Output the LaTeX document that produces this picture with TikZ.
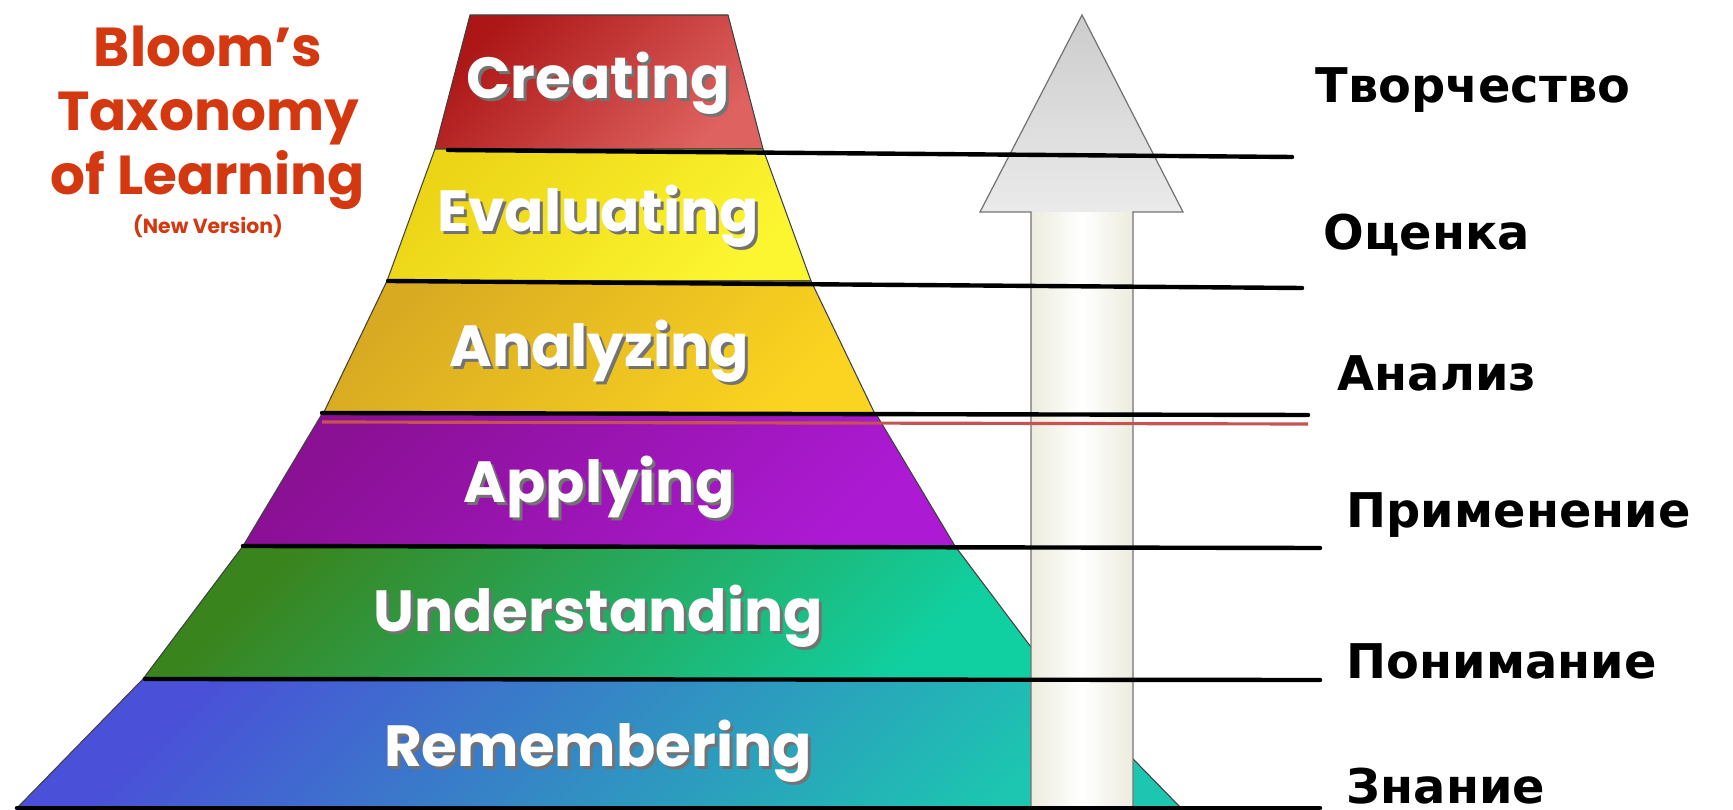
\documentclass[tikz,border=0pt]{standalone}
\usepackage{fontspec}
\setmainfont{DejaVu Sans}
\newfontfamily\comicfont{Poppins}
\usetikzlibrary{calc}

\definecolor{titlered}{RGB}{212,56,16}
\definecolor{crA}{RGB}{172,22,22}
\definecolor{crB}{RGB}{222,98,96}
\definecolor{evA}{RGB}{236,212,22}
\definecolor{evB}{RGB}{252,246,48}
\definecolor{anA}{RGB}{216,170,34}
\definecolor{anB}{RGB}{250,212,32}
\definecolor{apA}{RGB}{138,16,148}
\definecolor{apB}{RGB}{172,26,212}
\definecolor{unA}{RGB}{58,132,30}
\definecolor{unB}{RGB}{16,208,162}
\definecolor{reA}{RGB}{74,80,216}
\definecolor{reB}{RGB}{28,198,176}
\definecolor{cream}{RGB}{236,236,222}
\definecolor{redrule}{RGB}{200,82,82}

\begin{document}
\begin{tikzpicture}[x=0.01cm,y=-0.01cm,
  layer/.style={draw=black!75,line width=0.3pt},
  lvl/.style={font=\comicfont\bfseries\fontsize{16.5}{18}\selectfont,text=white,inner sep=0pt},
  lvlshadow/.style={lvl,text=black!55},
  sepline/.style={line width=1.25pt,line cap=round},
  arrowline/.style={draw=black!55,line width=0.35pt},
  rulabel/.style={anchor=west,inner sep=0pt,font=\bfseries\fontsize{13.6}{15}\selectfont}]

\useasboundingbox (0,0) rectangle (1733,810);

%Title
\node[align=center,text=titlered,font=\comicfont\bfseries\fontsize{15.6}{18.2}\selectfont] (title) at (208,118) {Bloom’s\\Taxonomy\\of Learning};
\node[text=titlered,font=\comicfont\bfseries\fontsize{5.8}{7}\selectfont] (version) at (208,226) {(New Version)};

%Pyramid
\path[layer,top color=crA,bottom color=crB,shading angle=45] (470,15) -- (728,15) -- (763,149) -- (435,149) -- cycle;
\path[layer,top color=evA,bottom color=evB,shading angle=45] (435,149) -- (763,149) -- (811,281) -- (387,281) -- cycle;
\path[layer,top color=anA,bottom color=anB,shading angle=45] (387,281) -- (811,281) -- (875,414) -- (323,414) -- cycle;
\path[layer,top color=apA,bottom color=apB,shading angle=45] (322,414) -- (876,414) -- (955,546) -- (243,546) -- cycle;
\path[layer,top color=unA,bottom color=unB,shading angle=45] (243,546) -- (955,546) -- (1055,679) -- (143,679) -- cycle;
\path[layer,top color=reA,bottom color=reB,shading angle=45] (143,679) -- (1055,679) -- (1181,808) -- (17,808) -- cycle;

\node[lvlshadow] at (601,86) {Creating};
\node[lvl] (creating) at (598,83) {Creating};
\node[lvlshadow] at (601,219) {Evaluating};
\node[lvl] (evaluating) at (598,216) {Evaluating};
\node[lvlshadow] at (602,354) {Analyzing};
\node[lvl] (analyzing) at (599,351) {Analyzing};
\node[lvlshadow] at (602,490) {Applying};
\node[lvl] (applying) at (599,487) {Applying};
\node[lvlshadow] at (601,619) {Understanding};
\node[lvl] (understanding) at (598,616) {Understanding};
\node[lvlshadow] at (601,754) {Remembering};
\node[lvl] (remembering) at (598,751) {Remembering};

%Arrow
\coordinate (tip) at (1082,15);
\fill[left color=cream,right color=cream,middle color=white] (1031,212) rectangle (1133,812);
\shade[top color=black!20,bottom color=black!8] (tip) -- (1183,212) -- (980,212) -- cycle;
\draw[arrowline] (1031,812) -- (1031,212) -- (980,212) -- (tip) -- (1183,212) -- (1133,212) -- (1133,812);

%Lines
\coordinate (a1) at (448,150);
\coordinate (b1) at (1292,157);
\coordinate (a2) at (388,281);
\coordinate (b2) at (1302,288);
\coordinate (a3) at (322,413);
\coordinate (b3) at (1308,415);
\coordinate (a4) at (243,546);
\coordinate (b4) at (1320,548);
\coordinate (a5) at (145,679);
\coordinate (b5) at (1320,680);
\coordinate (a6) at (17,808);
\coordinate (b6) at (1320,808);

\draw[sepline] (a1) -- (b1);
\draw[sepline] (a2) -- (b2);
\draw[sepline] (a3) -- (b3);
\draw[redrule,line width=0.9pt] ($(a3)+(0,9)$) -- ($(b3)+(0,9)$);
\draw[sepline] (a4) -- (b4);
\draw[sepline] (a5) -- (b5);
\draw[sepline] (a6) -- (b6);

%Labels
\node[rulabel] (tvor) at (1315,90) {Творчество};
\node[rulabel] (ocen) at (1323,235) {Оценка};
\node[rulabel] (anal) at (1337,373) {Анализ};
\node[rulabel] (prim) at (1346,515) {Применение};
\node[rulabel] (ponim) at (1346,661) {Понимание};
\node[rulabel] (znan) at (1346,786) {Знание};

\end{tikzpicture}
\end{document}
